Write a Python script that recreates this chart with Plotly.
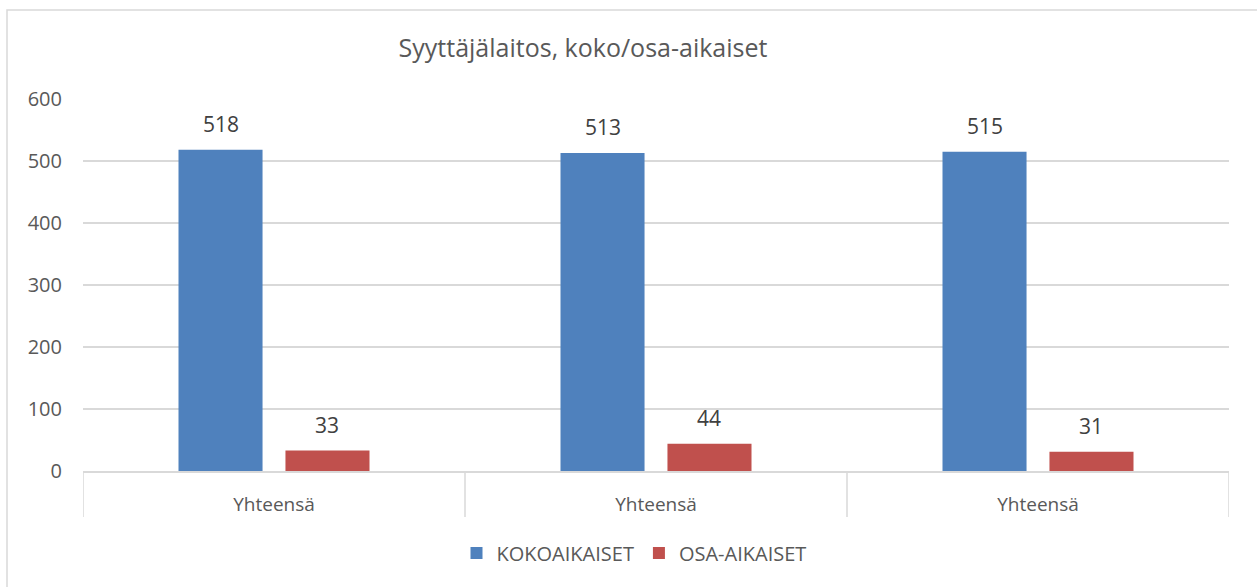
import plotly.graph_objects as go

categories = ["Yhteensä", "Yhteensä", "Yhteensä"]
kokoaikaiset = [518, 513, 515]
osa_aikaiset = [33, 44, 31]
series_names = ["KOKOAIKAISET", "OSA-AIKAISET"]
title_text = "Syyttäjälaitos, koko/osa-aikaiset"
y_ticks = [0, 100, 200, 300, 400, 500, 600]

xpos = list(range(len(categories)))
FONT = "Open Sans"
W, H = 1257, 587
L, R, T, B = 83, 28, 99, 116
pw, ph = W - L - R, H - T - B
BAR_W = 0.22
OFFSETS = [-0.25, 0.03]
COLORS = ["#4F81BD", "#C0504D"]
series = [kokoaikaiset, osa_aikaiset]

fig = go.Figure()
annotations = []
for name, vals, off, col in zip(series_names, series, OFFSETS, COLORS):
    fig.add_trace(go.Bar(
        x=xpos, y=vals, name=name,
        marker=dict(color=col, line=dict(width=0)),
        width=BAR_W, offset=off,
    ))
    for xi, v in zip(xpos, vals):
        annotations.append(dict(
            x=xi + off + BAR_W / 2, y=v, xref="x", yref="y",
            text=str(v), showarrow=False, yanchor="bottom", yshift=10,
            font=dict(size=21, color="#404040", family=FONT),
        ))

shapes = []
# chart frame
shapes.append(dict(type="rect", xref="paper", yref="paper",
                   x0=(7 - L) / pw, x1=(W + 20 - L) / pw,
                   y0=-(H + 20 - (T + ph)) / ph, y1=1 + (T - 10) / ph,
                   line=dict(color="#D9D9D9", width=1.5), layer="below"))
# category dividers
for i in range(len(categories) + 1):
    shapes.append(dict(type="line", xref="x", yref="paper",
                       x0=i - 0.5, x1=i - 0.5, y0=0, y1=-(517 - 471) / ph,
                       line=dict(color="#D9D9D9", width=1.5)))

fig.update_layout(
    width=W, height=H,
    margin=dict(l=L, r=R, t=T, b=B, autoexpand=False),
    paper_bgcolor="white", plot_bgcolor="white",
    font=dict(family=FONT, color="#595959", size=16),
    title=dict(text=title_text, x=(583 - L) / pw, xanchor="center", xref="paper",
               y=1 - 48 / H, yanchor="middle", yref="container",
               font=dict(size=25, color="#595959", family=FONT)),
    barmode="group",
    showlegend=True,
    legend=dict(orientation="h", x=(634 - L) / pw, xanchor="center",
                y=-(553 - (T + ph)) / ph, yanchor="middle",
                font=dict(size=20, color="#595959", family=FONT),
                itemwidth=30, tracegroupgap=0),
    shapes=shapes,
    annotations=annotations,
    bargap=0.5,
)
fig.update_xaxes(range=[-0.5, len(categories) - 0.5], tickvals=xpos, ticktext=categories,
                 showline=True, linecolor="#D9D9D9", linewidth=1.5, ticks="",
                 showgrid=False, zeroline=False, ticklabelstandoff=15,
                 tickfont=dict(size=19, color="#595959", family=FONT), fixedrange=True)
fig.update_yaxes(range=[0, 600], tickvals=y_ticks, showgrid=True, gridcolor="#D9D9D9",
                 gridwidth=1.5, zeroline=False, showline=False, ticks="",
                 ticklabelstandoff=20,
                 tickfont=dict(size=20, color="#595959", family=FONT), fixedrange=True)

fig.write_html("out.html", config={"displayModeBar": False},
               post_script="document.body.style.margin='0px';document.body.style.overflow='hidden';")
